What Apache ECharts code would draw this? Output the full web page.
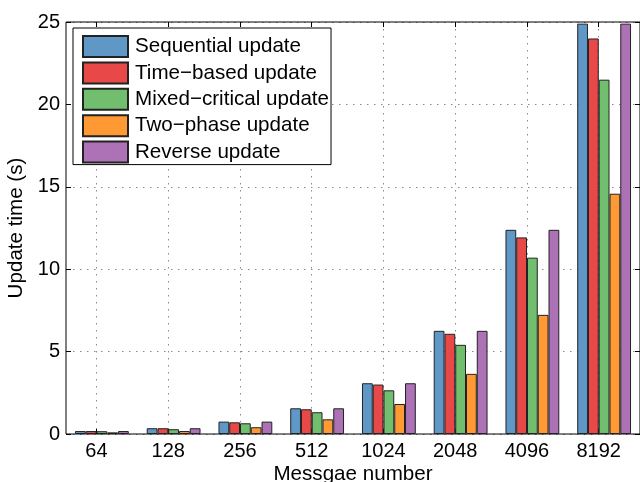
<!DOCTYPE html>
<html>
<head>
<meta charset="utf-8">
<script src="https://cdn.jsdelivr.net/npm/echarts@6/dist/echarts.min.js"></script>
<style>
  html, body { margin: 0; padding: 0; background: #fff; }
  #chart { width: 640px; height: 482px; }
</style>
</head>
<body>
<div id="chart"></div>
<script>
// Message counts on the x axis
const messageNumbers = ['64', '128', '256', '512', '1024', '2048', '4096', '8192'];

// Update time in seconds for each strategy
const sequentialUpdate    = [0.18, 0.35, 0.75, 1.56, 3.08, 6.26, 12.39, 24.9];
const timeBasedUpdate     = [0.18, 0.35, 0.71, 1.50, 3.00, 6.08, 11.93, 24.0];
const mixedCriticalUpdate = [0.17, 0.29, 0.65, 1.32, 2.65, 5.41, 10.70, 21.5];
const twoPhaseUpdate      = [0.10, 0.18, 0.41, 0.89, 1.82, 3.65, 7.23, 14.58];
const reverseUpdate       = [0.18, 0.35, 0.75, 1.56, 3.08, 6.26, 12.39, 24.9];

const seriesNames = ['Sequential update', 'Time\u2212based update', 'Mixed\u2212critical update', 'Two\u2212phase update', 'Reverse update'];
const seriesValues = [sequentialUpdate, timeBasedUpdate, mixedCriticalUpdate, twoPhaseUpdate, reverseUpdate];
const seriesColors = ['#5f98c6', '#e94849', '#71bf6e', '#ff9933', '#ad71b5'];

const FONT = "'Liberation Sans', Arial, Helvetica, sans-serif";

// Plot frame
const plotLeft = 66, plotRight = 640, plotTop = 22, plotBottom = 434;
const band = (plotRight - plotLeft) / messageNumbers.length;
const barW = band * 0.15;
// tick positions sit at 0.3 of a band past the group start (group spans 0.75 band)
const tickFirst = plotLeft + band * (0.125 + 0.3);
const tickLast = tickFirst + band * (messageNumbers.length - 1);

const dotted = { color: '#8a8a8a', width: 1, type: [1.5, 5.5] };

const chart = echarts.init(document.getElementById('chart'), null, { renderer: 'canvas' });

chart.setOption({
  animation: false,
  backgroundColor: '#fff',
  textStyle: { fontFamily: FONT },
  grid: [
    {
      left: plotLeft, right: 640 - plotRight, top: plotTop, bottom: 482 - plotBottom,
      containLabel: false, outerBoundsMode: 'none',
      show: true, borderColor: '#000', borderWidth: 1, backgroundColor: 'transparent', z: 3
    },
    {
      left: tickFirst, right: 640 - tickLast, top: plotTop, bottom: 482 - plotBottom,
      containLabel: false, outerBoundsMode: 'none'
    }
  ],
  legend: {
    orient: 'vertical',
    left: 73, top: 28,
    padding: [7, 2, 1, 9],
    icon: 'rect',
    itemWidth: 45, itemHeight: 21, itemGap: 3.4,
    backgroundColor: '#fff',
    borderColor: '#000', borderWidth: 1, borderRadius: 0,
    textStyle: { fontFamily: FONT, fontSize: 20.6, color: '#000', lineHeight: 21, height: 21, padding: [0, 0, 0, 2] },
    data: seriesNames,
    z: 10
  },
  xAxis: [
    {
      type: 'category', gridIndex: 0, data: messageNumbers,
      name: 'Messgae number', nameLocation: 'middle', nameGap: 30,
      nameTextStyle: { fontFamily: FONT, fontSize: 20.6, color: '#000' },
      axisLine: { show: false }, axisTick: { show: false }, axisLabel: { show: false },
      splitLine: { show: false }
    },
    {
      type: 'category', gridIndex: 1, data: messageNumbers, boundaryGap: false, position: 'bottom',
      axisLine: { show: false },
      axisTick: { show: true, inside: true, length: 5, interval: 0, lineStyle: { color: '#000' } },
      axisLabel: { show: true, interval: 0, margin: 7, fontFamily: FONT, fontSize: 20, color: '#000' },
      splitLine: { show: true, interval: 0, lineStyle: dotted }
    },
    {
      type: 'category', gridIndex: 1, data: messageNumbers, boundaryGap: false, position: 'top',
      axisLine: { show: false },
      axisTick: { show: true, inside: true, length: 5, interval: 0, lineStyle: { color: '#000' } },
      axisLabel: { show: false }, splitLine: { show: false }
    }
  ],
  yAxis: [
    {
      type: 'value', gridIndex: 0, min: 0, max: 25, interval: 5, position: 'left',
      name: 'Update time (s)', nameLocation: 'middle', nameGap: 35, nameRotate: 90,
      nameTextStyle: { fontFamily: FONT, fontSize: 20.6, color: '#000' },
      axisLine: { show: false },
      axisTick: { show: true, inside: true, length: 5, lineStyle: { color: '#000' } },
      axisLabel: { margin: 6, fontFamily: FONT, fontSize: 20, color: '#000' },
      splitLine: { show: true, lineStyle: dotted }
    },
    {
      type: 'value', gridIndex: 0, min: 0, max: 25, interval: 5, position: 'right',
      axisLine: { show: false },
      axisTick: { show: true, inside: true, length: 5, lineStyle: { color: '#000' } },
      axisLabel: { show: false }, splitLine: { show: false }
    },
    {
      type: 'value', gridIndex: 1, min: 0, max: 25, show: false
    }
  ],
  series: seriesNames.map((name, i) => ({
    name: name,
    type: 'bar',
    xAxisIndex: 0,
    yAxisIndex: 0,
    data: seriesValues[i],
    barWidth: barW,
    barGap: '0%',
    itemStyle: { color: seriesColors[i], borderColor: '#222', borderWidth: 1 },
    emphasis: { disabled: true },
    z: 4
  }))
});
</script>
</body>
</html>
